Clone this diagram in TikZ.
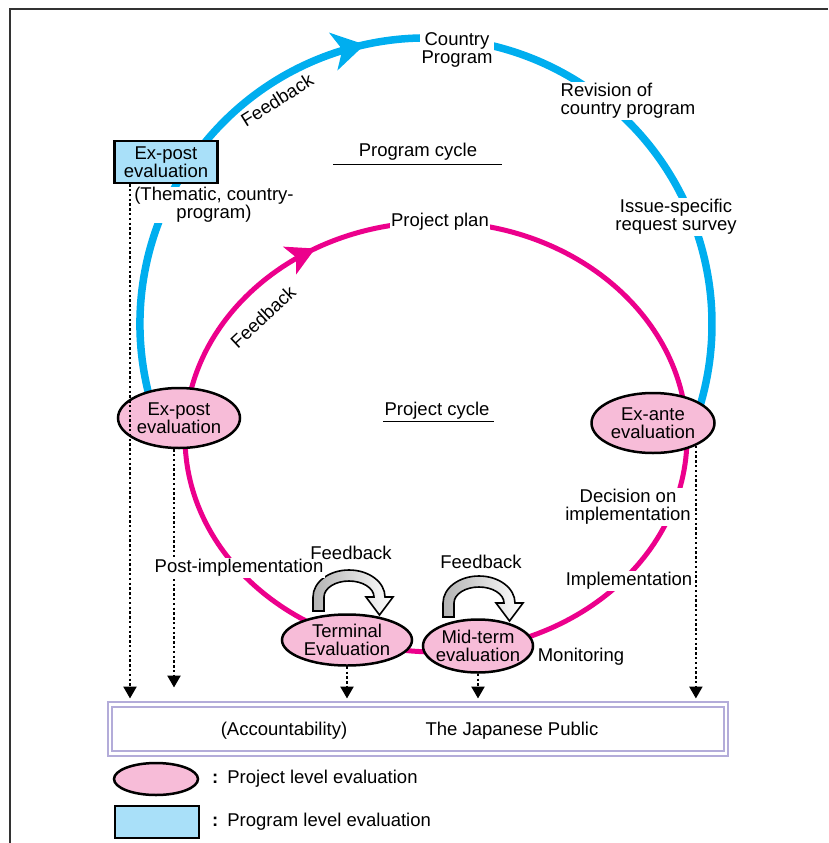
\documentclass[tikz,border=0pt]{standalone}
\usepackage{fontspec}
\setmainfont{Liberation Sans}
\usetikzlibrary{arrows.meta,shapes.geometric,decorations.markings}
\definecolor{progblue}{HTML}{00AEEF}
\definecolor{projpink}{HTML}{EC008C}
\definecolor{evalpink}{HTML}{F7BCD8}
\definecolor{boxblue}{HTML}{A9E0F9}
\definecolor{publine}{HTML}{B3ACD9}
\tikzset{fbloop/.pic={
  \draw[loopline] (-36,14) -- (-36,0) arc[start angle=180,end angle=360,x radius=36,y radius=27]
    -- (44,0) -- (30.5,18) -- (17,0) -- (25,0)
    arc[start angle=360,end angle=180,x radius=25,y radius=16] -- (-25,14) -- cycle;
}}
\begin{document}
\begin{tikzpicture}[x=1pt,y=-1pt,
  every node/.style={font=\fontsize{18.5}{18}\selectfont, align=center},
  lbl/.style={fill=white, inner sep=1.5pt},
  evalnode/.style={ellipse, draw=black, line width=2.5pt, fill=evalpink, inner sep=-8pt},
  progbox/.style={rectangle, draw=black, line width=2.5pt, fill=boxblue, inner sep=0pt},
  progline/.style={progblue, line width=7.5pt},
  projline/.style={projpink, line width=5pt},
  dotarrow/.style={line width=2.4pt, dash pattern=on 2.4pt off 2.4pt, -{Triangle[width=13pt,length=12pt]}},
  loopline/.style={draw=black, line width=1.6pt, left color=gray!60, right color=white}]
\useasboundingbox (0,0) rectangle (828,843);
\draw[line width=2pt, black!80] (828,9) -- (10,9) -- (10,843);

\coordinate (progc) at (426,324);
\coordinate (projc) at (436,437);
\draw[progline, postaction={decorate}, decoration={markings,
  mark=at position 0.435 with {\arrow{Stealth[length=32pt,width=38pt,inset=9pt,progblue]}}}]
  (progc) ++(165:286) arc[start angle=165,end angle=378,radius=286];
\draw[projline, postaction={decorate}, decoration={markings,
  mark=at position 0.165 with {\arrow{Stealth[length=28pt,width=30pt,inset=7pt,projpink]}}}]
  (projc) ++(-251,0) arc[start angle=180,end angle=540,x radius=251,y radius=215];

\pic (termloop) at (349,597) {fbloop};
\pic (midloop) at (479,603) {fbloop};

\node[progbox, minimum width=103pt, minimum height=42pt] (expostbox) at (166,162) {Ex-post\\evaluation};
\node[evalnode, minimum width=122pt, minimum height=60pt] (expost) at (179,418) {Ex-post\\evaluation};
\node[evalnode, minimum width=123pt, minimum height=60pt] (exante) at (653,423) {Ex-ante\\evaluation};
\node[evalnode, minimum width=130pt, minimum height=51pt] (terminal) at (347,640) {Terminal\\Evaluation};
\node[evalnode, minimum width=110pt, minimum height=53pt] (midterm) at (478,646) {Mid-term\\evaluation};

\node[draw=publine, line width=2pt, double=white, double distance=2.5pt,
  minimum width=616pt, minimum height=49pt] (public) at (418,729) {};
\node (account) at (284,731) {(Accountability)};
\node (japan) at (512,731) {The Japanese Public};

\draw[dotarrow, shorten >=5pt] ([xshift=-36pt]expostbox.south) -- ([xshift=-36pt]expostbox.south |- public.north);
\draw[dotarrow, shorten >=16pt] ([xshift=-5pt]expost.south) -- ([xshift=-5pt]expost.south |- public.north);
\draw[dotarrow, shorten >=5pt] (terminal.south) -- (terminal.south |- public.north);
\draw[dotarrow, shorten >=5pt] (midterm.south) -- (midterm.south |- public.north);
\draw[dotarrow, shorten >=5pt] (exante.-28) -- (exante.-28 |- public.north);

\node[lbl] (country) at (457,50) {Country\\Program};
\node[lbl, align=left, anchor=west] (revision) at (559,101) {Revision of\\country program};
\node[lbl] (issue) at (676,217) {Issue-specific\\request survey};
\node (progcycle) at (418,152) {Program cycle};
\draw[line width=1pt] (333,164) -- (502,164);
\node[lbl] (plan) at (440,222) {Project plan};
\node (projcycle) at (437,411) {Project cycle};
\draw[line width=1pt] (383,421) -- (494,421);
\node[rotate=32] (fbprog) at (277,100) {Feedback};
\node[rotate=43] (fbproj) at (263,317) {Feedback};
\node[lbl, inner sep=0.5pt] (thematic) at (214,205) {(Thematic, country-\\program)};
\node[lbl] (postimpl) at (239,568) {Post-implementation};
\node (fbterm) at (351,553) {Feedback};
\node (fbmid) at (481,562) {Feedback};
\node[lbl, inner sep=1pt] (decision) at (628,507) {Decision on\\implementation};
\node[lbl, inner sep=1pt] (impl) at (629,581) {Implementation};
\node (monitor) at (581,657) {Monitoring};

\node[ellipse, draw=black, line width=2.5pt, fill=evalpink, minimum width=84pt, minimum height=32pt, inner sep=0pt] (legproj) at (156,779) {};
\node[anchor=west, inner sep=0pt] (legprojtxt) at (212,779) {\textbf{:}\hspace{9pt}Project level evaluation};
\node[progbox, minimum width=84pt, minimum height=32pt] (legprog) at (157,822) {};
\node[anchor=west, inner sep=0pt] (legprogtxt) at (212,822) {\textbf{:}\hspace{9pt}Program level evaluation};
\end{tikzpicture}
\end{document}
